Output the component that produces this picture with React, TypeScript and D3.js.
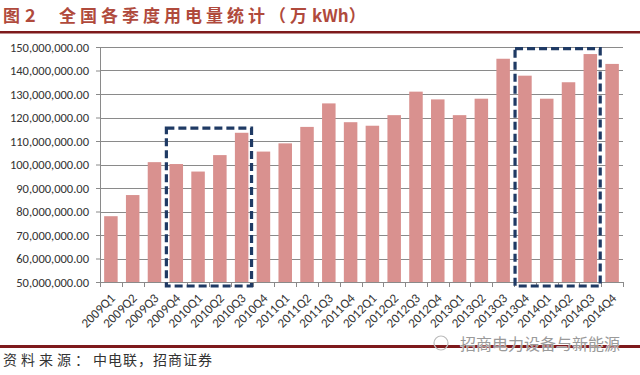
import React, { useEffect, useRef } from 'react';
import { select, scaleBand, scaleLinear, axisLeft, axisBottom, format, range } from 'd3';

const quarters = [
  '2009Q1', '2009Q2', '2009Q3', '2009Q4',
  '2010Q1', '2010Q2', '2010Q3', '2010Q4',
  '2011Q1', '2011Q2', '2011Q3', '2011Q4',
  '2012Q1', '2012Q2', '2012Q3', '2012Q4',
  '2013Q1', '2013Q2', '2013Q3', '2013Q4',
  '2014Q1', '2014Q2', '2014Q3', '2014Q4',
];

// 万 kWh
const usage = [
  78000000, 87000000, 101000000, 100200000,
  97000000, 104000000, 113500000, 105500000,
  109000000, 116000000, 126000000, 118000000,
  116500000, 121000000, 131000000, 127700000,
  121000000, 128000000, 145000000, 137800000,
  128000000, 135000000, 147000000, 142800000,
];

const yTicks = [50, 60, 70, 80, 90, 100, 110, 120, 130, 140, 150].map((d) => d * 1000000);

// highlighted quarter ranges: [first, last, box top value]
const highlights: [string, string, number][] = [
  ['2009Q4', '2010Q3', 115500000],
  ['2013Q4', '2014Q3', 149300000],
];

const figLabel = ['图', '2'];
const titleCn = '全国各季度用电量统计（万';
const titleUnit = 'kWh）';
const sourceLead = '资料来源：';
const sourceText = '中电联，招商证券';
const watermark = '招商电力设备与新能源';

const W = 640;
const H = 375;

const BarChart: React.FC = () => {
  const svgRef = useRef<SVGSVGElement | null>(null);

  useEffect(() => {
    if (!svgRef.current) return;
    const svg = select(svgRef.current);
    svg.selectAll('*').remove();

    const margin = { top: 47, right: 17, bottom: 93, left: 100 };
    const innerW = W - margin.left - margin.right;
    const innerH = H - margin.top - margin.bottom;

    const x = scaleBand<string>().domain(quarters).range([0, innerW]).paddingInner(0.38).paddingOuter(0.19);
    const y = scaleLinear().domain([50000000, 150000000]).range([innerH, 0]);

    svg.append('rect').attr('width', W).attr('height', H).attr('fill', '#fff');

    // title and rules
    const cjk = '"Noto Sans CJK SC", sans-serif';
    const addTitle = (tx: number, str: string, size: number, spacing = 0) =>
      svg.append('text')
        .attr('x', tx).attr('y', 22)
        .attr('font-family', cjk).attr('font-weight', 700).attr('font-size', size)
        .attr('letter-spacing', spacing)
        .attr('fill', '#B04A3C')
        .text(str);
    addTitle(3, figLabel[0], 17);
    addTitle(25, figLabel[1], 18);
    addTitle(59, titleCn, 17, 4);
    addTitle(312, titleUnit, 17);

    svg.append('rect').attr('x', 0).attr('y', 31).attr('width', W).attr('height', 2.5).attr('fill', '#7E1A1C');
    svg.append('rect').attr('x', 0).attr('y', 345).attr('width', W).attr('height', 3).attr('fill', '#7E1A1C');

    const g = svg.append('g').attr('transform', `translate(${margin.left},${margin.top})`);

    // gridlines
    g.append('g')
      .selectAll('line')
      .data(yTicks.slice(1))
      .enter()
      .append('line')
      .attr('x1', 0).attr('x2', innerW)
      .attr('y1', (d) => Math.round(y(d)) + 0.5)
      .attr('y2', (d) => Math.round(y(d)) + 0.5)
      .attr('stroke', '#8a8a8a')
      .attr('stroke-width', 1);

    // bars
    g.selectAll('rect.bar')
      .data(usage)
      .enter()
      .append('rect')
      .attr('class', 'bar')
      .attr('x', (_d, i) => x(quarters[i]) as number)
      .attr('width', x.bandwidth())
      .attr('y', (d) => y(d))
      .attr('height', (d) => innerH - y(d))
      .attr('fill', '#D9918F');

    // y axis
    const yAxis = g.append('g')
      .call(axisLeft(y).tickValues(yTicks).tickSize(4).tickPadding(7).tickFormat(format(',.2f')));
    yAxis.select('.domain').attr('stroke', '#8a8a8a');
    yAxis.selectAll('line').attr('stroke', '#8a8a8a');
    yAxis.selectAll('text')
      .attr('font-family', 'Carlito, "Liberation Sans", sans-serif')
      .attr('font-size', 12.5)
      .attr('fill', '#333');

    // x axis with ticks at band edges
    const step = x.step();
    const edges = range(quarters.length + 1).map((i) => i * step);
    const xAxis = g.append('g').attr('transform', `translate(0,${innerH})`);
    xAxis.append('line').attr('x1', 0).attr('x2', innerW).attr('y1', 0.5).attr('y2', 0.5).attr('stroke', '#8a8a8a');
    xAxis.selectAll('line.tick')
      .data(edges)
      .enter()
      .append('line')
      .attr('class', 'tick')
      .attr('x1', (d) => Math.round(d) + 0.5).attr('x2', (d) => Math.round(d) + 0.5)
      .attr('y1', 0).attr('y2', 5)
      .attr('stroke', '#8a8a8a');
    // band axis only for label positions
    const labelAxis = xAxis.append('g').call(axisBottom(x).tickSize(0).tickPadding(0));
    labelAxis.select('.domain').remove();
    labelAxis.selectAll('text')
      .attr('font-family', 'Carlito, "Liberation Sans", sans-serif')
      .attr('font-size', 13)
      .attr('fill', '#333')
      .attr('text-anchor', 'end')
      .attr('dy', 0)
      .attr('transform', 'translate(5,17) rotate(-45)');

    // dashed highlight boxes
    highlights.forEach(([a, b, top]) => {
      const x0 = (x(a) as number) - (step - x.bandwidth()) / 2 + 1;
      const x1 = (x(b) as number) + x.bandwidth() + (step - x.bandwidth()) / 2 - 1;
      g.append('rect')
        .attr('x', x0)
        .attr('y', y(top))
        .attr('width', x1 - x0)
        .attr('height', innerH + 4 - y(top))
        .attr('fill', 'none')
        .attr('stroke', '#1F3A64')
        .attr('stroke-width', 3.2)
        .attr('stroke-dasharray', '8,4');
    });

    // source
    svg.append('text')
      .attr('x', 3).attr('y', 365)
      .attr('font-family', cjk).attr('font-size', 14)
      .attr('letter-spacing', 4)
      .attr('fill', '#333')
      .text(sourceLead);
    svg.append('text')
      .attr('x', 93).attr('y', 365)
      .attr('font-family', cjk).attr('font-size', 14)
      .attr('letter-spacing', 1)
      .attr('fill', '#333')
      .text(sourceText);

    // watermark
    svg.append('text')
      .attr('x', 620).attr('y', 350)
      .attr('text-anchor', 'end')
      .attr('font-family', cjk)
      .attr('font-size', 16)
      .attr('fill', '#9a9a9a')
      .attr('stroke', '#fff')
      .attr('stroke-width', 0.6)
      .attr('paint-order', 'stroke')
      .text(watermark);
    svg.append('circle').attr('cx', 441).attr('cy', 343).attr('r', 7)
      .attr('fill', 'none').attr('stroke', '#bbb').attr('stroke-width', 1.2);
  }, []);

  return <svg ref={svgRef} width={W} height={H} style={{ display: 'block' }}></svg>;
};

export default function App() {
  return (
    <div style={{ position: 'absolute', left: 0, top: 0 }}>
      <BarChart />
    </div>
  );
}
